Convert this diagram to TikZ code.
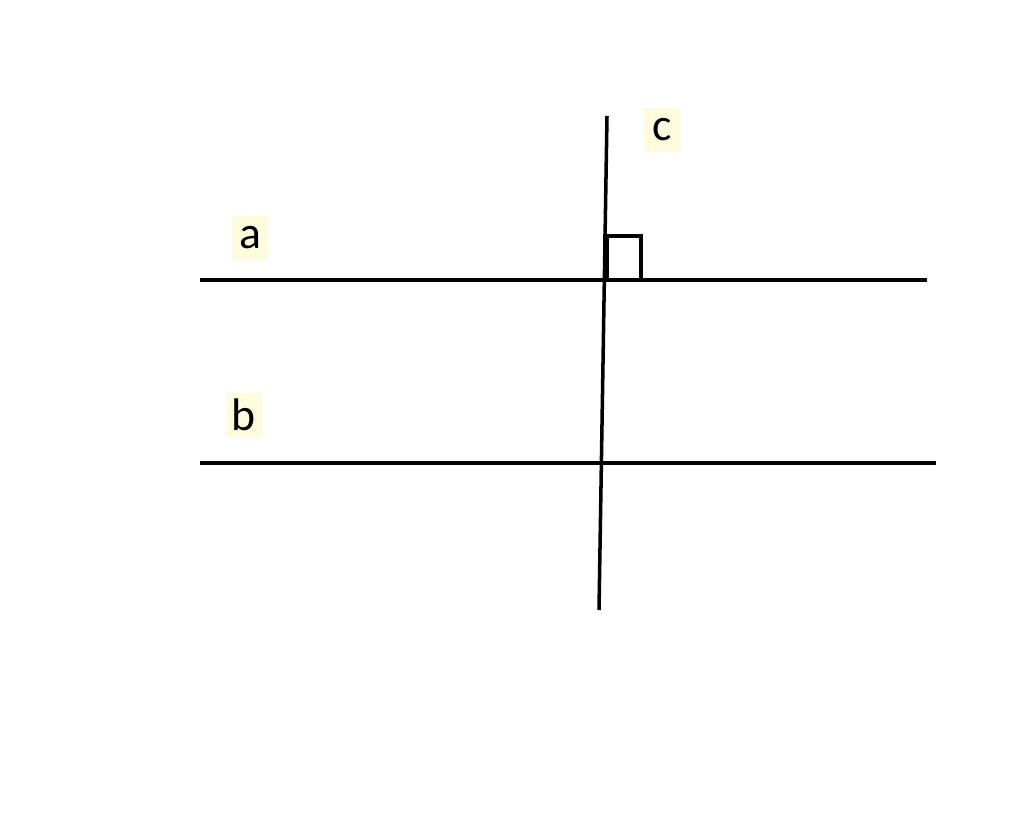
\documentclass[tikz,border=0pt]{standalone}
\usepackage{fontspec}
\setmainfont{Carlito}
\definecolor{labelbg}{RGB}{255,252,222}
\tikzset{
  line/.style={line width=1pt},
  lab/.style={fill=labelbg, inner sep=0pt, minimum width=0.36cm, minimum height=0.44cm, font=\fontsize{13}{15}\selectfont}
}
\begin{document}
\begin{tikzpicture}[x=0.01cm, y=-0.01cm]
  \useasboundingbox (0,0) rectangle (1024,813);

  % End points of the lines
  \coordinate (a1) at (200,280);
  \coordinate (a2) at (927,280);
  \coordinate (b1) at (200,463);
  \coordinate (b2) at (936,463);
  \coordinate (c1) at (607,116);
  \coordinate (c2) at (599,610);

  % Drawing line a
  \draw [line] (a1) -- (a2);%

  % Drawing line b
  \draw [line] (b1) -- (b2);%

  % Drawing line c
  \draw [line] (c1) -- (c2);%

  % Marking right angle
  \draw [line] (605,280) -- (605,236) -- (641,236) -- (641,280);%
  \draw [line width=1.7pt] (606,238) -- (606,279);%

  % Labels
  \node [lab] (la) at (250,238) {a};
  \node [lab] (lb) at (244,415) {b};
  \node [lab] (lc) at (662,130) {c};
\end{tikzpicture}
\end{document}
